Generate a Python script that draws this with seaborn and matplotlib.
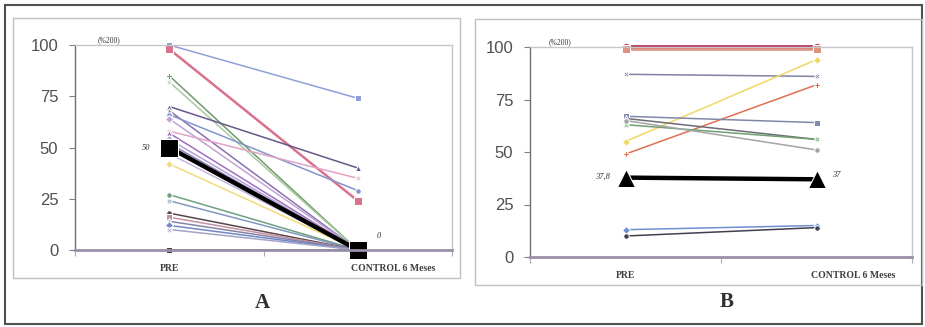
import pandas as pd
import seaborn as sns
import matplotlib.pyplot as plt
from matplotlib.patches import Rectangle

# Panel A: individual values, PRE -> CONTROL 6 Meses (% of 200)
a_pre = [100, 98, 85, 82, 70, 68, 66, 64, 58, 57, 54, 52, 47, 42, 27, 24, 18, 16, 14, 12, 10, 0]
a_ctrl = [74, 24, 0, 0, 40, 0, 29, 0, 35, 0, 0, 0, 0, 0, 0, 0, 0, 0, 0, 0, 0, 0]
a_colors = ['#8f9fd8', '#d8728c', '#6f9a6a', '#a9c9a0', '#66588a', '#8a70b0', '#8494cc',
            '#c2a4d4', '#e2a2c2', '#a070c0', '#b2a2d8', '#9282c2', '#c8b8e0', '#efdd7a',
            '#6fa080', '#8098c0', '#5a4648', '#c490a4', '#8484a4', '#7088c8', '#a4a4c4', '#4a3a3a']
a_markers = ['s', 's', 'P', 'X', '^', '^', 'o', 'D', 'X', '^', 'D', 's', 'o', 'D',
             'o', 'X', 'o', 's', '^', 'D', 'X', 's']
a_mean = [50, 0]

# Panel B
b_pre = [100, 99, 87, 55, 49, 67, 66, 63, 65, 13, 10]
b_ctrl = [100, 99, 86, 94, 82, 64, 56, 56, 51, 15, 14]
b_colors = ['#b83c5c', '#e0907e', '#8282a2', '#f2d862', '#e07052', '#8088a8', '#6c6c74',
            '#6fa070', '#a4a4a8', '#7090d0', '#404050']
b_markers = ['o', 's', 'X', 'D', 'P', 's', '^', 'X', 'o', 'D', 'o']
b_mean = [37.8, 37]

times = ['PRE', 'CONTROL 6 Meses']
yticks = [0, 25, 50, 75, 100]

sns.set_theme(style='white')
plt.rcParams['font.family'] = ['Liberation Sans', 'DejaVu Sans']

fig = plt.figure(figsize=(9.25, 3.27), dpi=100)
W, H = 925, 327


def frac(x0, y0, x1, y1):
    return [x0 / W, 1 - y1 / H, (x1 - x0) / W, (y1 - y0) / H]


def panel(rect, pre, ctrl, colors, markers, mean, mean_marker, mean_labels, letter,
          letter_xy, unit_x, thick):
    ax = fig.add_axes(frac(*rect))
    ids = ['s%02d' % i for i in range(len(pre))]
    df = pd.DataFrame({
        'id': ids * 2,
        'x': [0.5] * len(pre) + [1.5] * len(ctrl),
        'v': pre + ctrl,
    })
    sns.lineplot(data=df, x='x', y='v', hue='id', style='id',
                 palette=dict(zip(ids, colors)), markers=dict(zip(ids, markers)),
                 dashes=False, estimator=None, sort=False, legend=False,
                 lw=1.1, markersize=4, ax=ax)
    for i, w in thick.items():
        ax.lines[i].set_linewidth(w)
        ax.lines[i].set_markersize(6)
    mdf = pd.DataFrame({'x': [0.5, 1.5], 'v': mean})
    sns.lineplot(data=mdf, x='x', y='v', color='black', lw=3.2, marker=mean_marker,
                 markersize=13, estimator=None, ax=ax)
    for ln in ax.lines:
        ln.set_clip_on(False)
    ax.set_xlim(0, 2)
    ax.set_ylim(0, 100)
    ax.set_xticks([0, 1, 2])
    ax.set_xticklabels([])
    ax.set_yticks(yticks)
    ax.set_yticklabels([str(t) for t in yticks], fontsize=12, color='#505050')
    ax.tick_params(axis='y', length=4, width=0.8, color='#808080', pad=8, left=True)
    ax.tick_params(axis='x', length=4, width=0.8, color='#b0a8b8', bottom=True)
    ax.set_xlabel('')
    ax.set_ylabel('')
    for s in ['top', 'right']:
        ax.spines[s].set_color('#c8c4cc')
        ax.spines[s].set_linewidth(1.0)
    ax.spines['left'].set_color('#707070')
    ax.spines['left'].set_linewidth(1.0)
    ax.spines['bottom'].set_color('#9a90a8')
    ax.spines['bottom'].set_linewidth(2.0)
    tr = ax.get_xaxis_transform()
    ax.text(0.5, -0.09, times[0], transform=tr, ha='center', va='center', fontsize=7,
            fontweight='bold', family='Liberation Serif', color='#404040')
    ax.text(1.69, -0.09, times[1], transform=tr, ha='center', va='center', fontsize=7,
            fontweight='bold', family='Liberation Serif', color='#404040')
    ax.text(unit_x, 1.025, '(%200)', transform=ax.transAxes, ha='left', va='center',
            fontsize=5.5, family='Liberation Serif', color='#303030')
    (l1, p1), (l2, p2) = mean_labels
    ax.text(p1[0], p1[1], l1, ha='right', va='center', fontsize=6, style='italic',
            family='Liberation Serif', color='#303030')
    ax.text(p2[0], p2[1], l2, ha='left', va='center', fontsize=6, style='italic',
            family='Liberation Serif', color='#303030')
    fig.text(letter_xy[0] / W, 1 - letter_xy[1] / H, letter, ha='center', va='center',
             fontsize=15, fontweight='bold', family='Liberation Serif', color='#303030')
    return ax


panel((75, 45, 452, 250), a_pre, a_ctrl, a_colors, a_markers, a_mean, 's',
      [('50', (0.4, 50)), ('0', (1.6, 7))], 'A', (262, 303), 0.06, {1: 1.8})
panel((530, 47, 912, 257), b_pre, b_ctrl, b_colors, b_markers, b_mean, '^',
      [('37,8', (0.42, 38)), ('37', (1.58, 39))], 'B', (727, 302), 0.05, {0: 3.5, 1: 1.8})

# frames of the scanned figure
fig.patches.append(Rectangle((5 / W, 1 - 324 / H), 917 / W, 319 / H, transform=fig.transFigure,
                             fill=False, edgecolor='#505050', lw=1.5))
fig.patches.append(Rectangle((13 / W, 1 - 278 / H), 447 / W, 260 / H, transform=fig.transFigure,
                             fill=False, edgecolor='#c0c0c0', lw=1.0))
fig.patches.append(Rectangle((475 / W, 1 - 285 / H), 447 / W, 266 / H, transform=fig.transFigure,
                             fill=False, edgecolor='#c0c0c0', lw=1.0))

fig.savefig('out.png', dpi=100)
